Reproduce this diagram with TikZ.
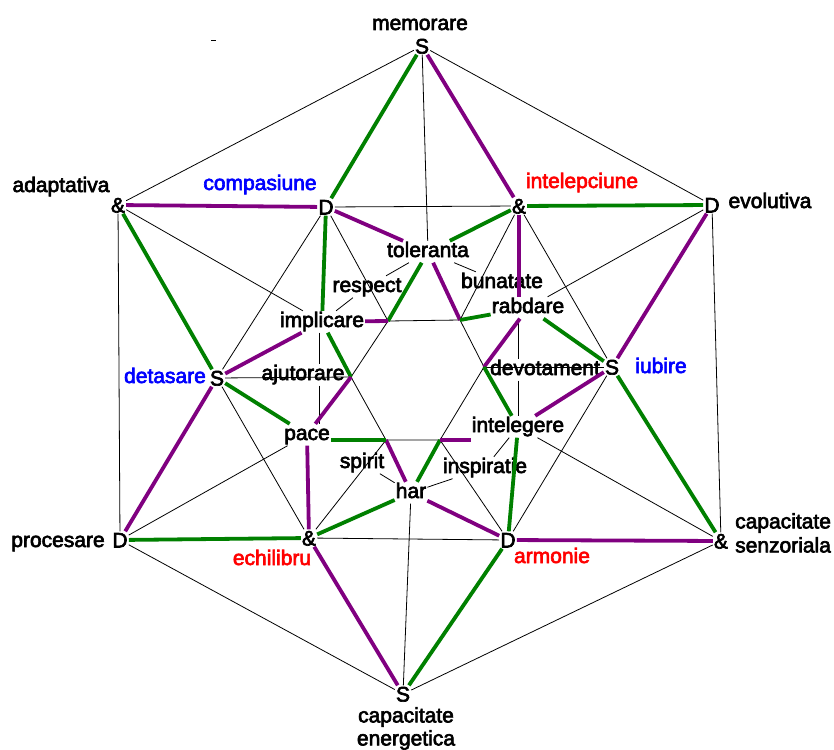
\documentclass[tikz,border=0pt]{standalone}
\usepackage{fontspec}
\newfontfamily\dgfam[FakeBold=3]{Liberation Sans}
\newcommand\dgfont{\dgfam\fontsize{21}{24}\selectfont}
\definecolor{dgreen}{RGB}{0,128,0}
\definecolor{dpurple}{RGB}{128,0,128}
\definecolor{dblue}{RGB}{0,0,255}
\definecolor{dred}{RGB}{255,0,0}
\tikzset{
  glyph/.style={inner sep=1pt, font=\dgfont, text height=15pt, text depth=0pt},
  lab/.style={inner sep=1pt, font=\dgfont, text height=15pt, text depth=4.5pt, anchor=base},
  ln/.style={draw=black, line width=0.8pt},
  grn/.style={draw=dgreen, line width=3.8pt},
  pur/.style={draw=dpurple, line width=3.8pt},
}
\begin{document}
\begin{tikzpicture}[x=1pt,y=-1pt]
\useasboundingbox[fill=white] (0,0) rectangle (834,749);

% outer vertices
\node[glyph] (mS)   at (422,46)  {S};
\node[glyph] (evD)  at (712,205) {D};
\node[glyph] (senA) at (721,541) {\&};
\node[glyph] (enS)  at (403,694) {S};
\node[glyph] (prD)  at (120,540) {D};
\node[glyph] (adA)  at (118,205) {\&};
% middle vertices
\node[glyph] (coD)  at (326,207) {D};
\node[glyph] (inA)  at (519,206) {\&};
\node[glyph] (iuS)  at (612,367) {S};
\node[glyph] (arD)  at (508,540) {D};
\node[glyph] (ecA)  at (309,538) {\&};
\node[glyph] (deS)  at (217,378) {S};
% inner hexagon
\coordinate (pA)  at (388,321);
\coordinate (pF)  at (460,320);
\coordinate (pE)  at (484,367);
\coordinate (pDd) at (440,440);
\coordinate (pC)  at (386,440);
\coordinate (pB)  at (351,377);

% inner labels
\node[lab] (tol)  at (428,257) {toleranta};
\node[lab] (resp) at (367,292) {respect};
\node[lab] (bun)  at (502,288) {bunatate};
\node[lab] (rab)  at (528,313) {rabdare};
\node[lab] (impl) at (322,327) {implicare};
\node[lab] (ajut) at (303,380) {ajutorare};
\node[lab] (dev)  at (545,375) {devotament};
\node[lab] (pace) at (307,440) {pace};
\node[lab] (inte) at (518,432) {intelegere};
\node[lab] (spir) at (362,468) {spirit};
\node[lab] (insp) at (485,473) {inspiratie};
\node[lab] (har)  at (411,498) {har};

% coloured names
\node[lab, text=dblue] (tcomp) at (260,190) {compasiune};
\node[lab, text=dred]  (tinte) at (582,188) {intelepciune};
\node[lab, text=dblue] (tdeta) at (165,383) {detasare};
\node[lab, text=dblue] (tiubi) at (661,373) {iubire};
\node[lab, text=dred]  (techi) at (272,565) {echilibru};
\node[lab, text=dred]  (tarmo) at (552,563) {armonie};

% outer names
\node[lab] (tmem)  at (420,30)  {memorare};
\node[lab] (tadap) at (61,192)  {adaptativa};
\node[lab] (tevol) at (770,208) {evolutiva};
\node[lab] (tproc) at (58,547)  {procesare};
\node[inner sep=0pt, font=\dgfont, align=left, anchor=north west] (tsenz) at (735,513) {capacitate\\senzoriala};
\node[inner sep=0pt, font=\dgfam\fontsize{21}{23}\selectfont, align=center, anchor=north] (tener) at (406,707) {capacitate\\energetica};

% thin lines: outer hexagon
\draw[ln] (mS) -- (evD);
\draw[ln] (evD) -- (senA);
\draw[ln] (senA) -- (enS);
\draw[ln] (enS) -- (prD);
\draw[ln] (prD) -- (adA);
\draw[ln] (adA) -- (mS);
% middle hexagon
\draw[ln] (coD) -- (inA);
\draw[ln] (inA) -- (iuS);
\draw[ln] (iuS) -- (arD);
\draw[ln] (arD) -- (ecA);
\draw[ln] (ecA) -- (deS);
\draw[ln] (deS) -- (coD);
% outer to inner labels
\draw[ln] (mS) -- (tol);
\draw[ln] (enS) -- (har);
\draw[ln] (adA) -- (impl);
\draw[ln] (evD) -- (rab);
\draw[ln] (prD) -- (pace);
\draw[ln] (senA) -- (inte);
% middle to inner hexagon
\draw[ln] (coD) -- (pA);
\draw[ln] (inA) -- (pF);
\draw[ln] (iuS) -- (pE);
\draw[ln] (arD) -- (pDd);
\draw[ln] (ecA) -- (pC);
\draw[ln] (deS) -- (pB);
% inner hexagon
\draw[ln] (pA) -- (pF) -- (pE) -- (pDd) -- (pC) -- (pB) -- cycle;
% short links
\draw[ln] (tol) -- (resp);
\draw[ln] (resp) -- (impl);
\draw[ln] (tol) -- (bun);
\draw[ln] (spir) -- (har);
\draw[ln] (har) -- (insp);
\draw[ln] (insp) -- (inte);
% verticals
\draw[ln] ([xshift=-3pt]impl.south) -- ([xshift=-3pt]impl.south |- ajut.north);
\draw[ln] ([xshift=-3pt]impl.south |- ajut.south) -- ([xshift=-3pt]impl.south |- pace.north);
\draw[ln] (rab.south -| inte.north) -- (dev.north -| inte.north);
\draw[ln] (dev.south -| inte.north) -- (inte.north);
% stray mark
\draw[ln] (211,40) -- (216,40);

% star
\draw[grn] (mS) -- (coD);
\draw[pur] (mS) -- (inA);
\draw[pur] (adA) -- (coD);
\draw[grn] (inA) -- (evD);
\draw[grn] (adA) -- (deS);
\draw[pur] (prD) -- (deS);
\draw[pur] (evD) -- (iuS);
\draw[grn] (senA) -- (iuS);
\draw[grn] (prD) -- (ecA);
\draw[pur] (arD) -- (senA);
\draw[pur] (ecA) -- (enS);
\draw[grn] (arD) -- (enS);
% top cluster
\draw[pur] (coD) -- (tol);
\draw[grn] (inA) -- (tol);
\draw[grn] (tol) -- (pA);
\draw[pur] (tol) -- (pF);
% bottom cluster
\draw[grn] (ecA) -- (har);
\draw[pur] (har) -- (arD);
\draw[pur] (pC) -- (har);
\draw[grn] (pDd) -- (har);
% left cluster
\draw[grn] (coD) -- (impl);
\draw[pur] (impl) -- (pA);
\draw[pur] (deS) -- (impl);
\draw[grn] (impl) -- (pB);
\draw[pur] (pB) -- (pace);
\draw[grn] (deS) -- (pace);
\draw[grn] (pace.east |- pC) -- (pC);
\draw[pur] (pace) -- (ecA);
% right cluster
\draw[pur] (inA) -- (inA |- rab.north);
\draw[grn] (rab) -- (pF);
\draw[grn] (rab) -- (iuS);
\draw[pur] (rab) -- (pE);
\draw[grn] (pE) -- (inte);
\draw[pur] (iuS) -- (inte);
\draw[pur] (inte.west |- pDd) -- (pDd);
\draw[grn] (inte) -- (arD);
\end{tikzpicture}
\end{document}
